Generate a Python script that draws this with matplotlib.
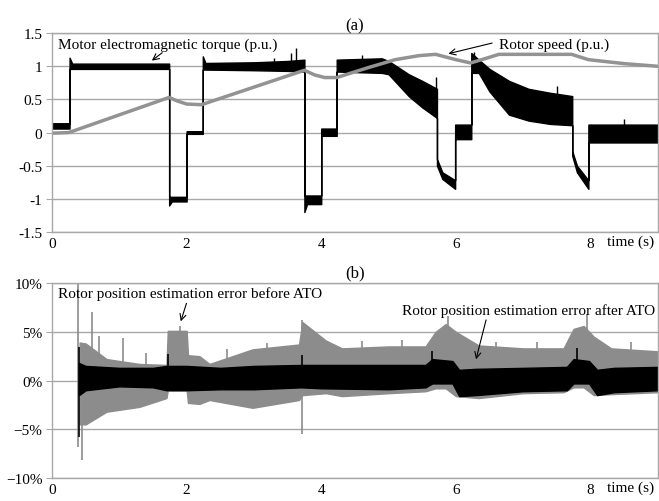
import numpy as np
import matplotlib
matplotlib.use("Agg")
import matplotlib.pyplot as plt
from matplotlib.ticker import PercentFormatter

plt.rcParams['font.family'] = ['Liberation Serif', 'DejaVu Serif']
plt.rcParams['font.size'] = 11

# (a) motor electromagnetic torque, envelope of the noisy trace (p.u.)
torque_t = [0.0, 0.26, 0.26, 0.30, 1.74, 1.74, 1.78, 2.0, 2.0, 2.24, 2.24, 2.28, 3.0, 3.5, 3.75,
            3.75, 3.79, 4.0, 4.0, 4.23, 4.23, 4.9, 5.0, 5.3, 5.5, 5.72, 5.72, 5.8, 5.99, 5.99,
            6.23, 6.23, 6.34, 6.5, 6.79, 7.08, 7.4, 7.73, 7.73, 7.8, 7.97, 7.97, 9.0]
torque_lo = [0.06, 0.06, 0.96, 0.96, 0.96, -1.1, -1.04, -1.04, -0.02, -0.02, 0.95, 0.95, 0.94, 0.93, 0.92,
             -1.2, -1.08, -1.08, -0.05, -0.05, 0.92, 0.9, 0.88, 0.55, 0.38, 0.22, -0.5, -0.7, -0.85, -0.1,
             -0.1, 0.9, 0.9, 0.62, 0.27, 0.18, 0.13, 0.11, -0.35, -0.6, -0.85, -0.15, -0.15]
torque_hi = [0.14, 0.14, 1.13, 1.04, 1.04, -0.97, -0.97, -0.97, 0.02, 0.02, 1.15, 1.05, 1.06, 1.08, 1.1,
             -0.95, -0.95, -0.95, 0.06, 0.06, 1.1, 1.12, 1.08, 0.88, 0.78, 0.66, -0.4, -0.6, -0.72, 0.12,
             0.12, 1.2, 1.1, 0.96, 0.78, 0.66, 0.6, 0.55, -0.28, -0.5, -0.72, 0.12, 0.12]
torque_spike_t = [3.3, 3.55, 3.62, 4.6, 5.7, 6.27, 7.5, 8.5]
torque_spike_lo = [1.0, 1.0, 1.0, 1.0, 0.5, 1.0, 0.4, 0.0]
torque_spike_hi = [1.12, 1.2, 1.27, 1.17, 0.84, 1.21, 0.7, 0.2]

# rotor speed (p.u.)
speed_t = [0.0, 0.25, 1.74, 1.85, 2.0, 2.22, 3.75, 3.9, 4.05, 4.23, 4.7, 5.1, 5.45, 5.7,
           6.0, 6.22, 6.45, 6.64, 7.72, 7.97, 8.5, 9.0]
speed_v = [-0.01, 0.0, 0.53, 0.48, 0.43, 0.42, 0.94, 0.87, 0.83, 0.83, 0.98, 1.1, 1.16, 1.18,
           1.1, 1.05, 1.12, 1.18, 1.18, 1.1, 1.04, 1.0]

# (b) rotor position estimation error before ATO (%), envelope
before_t = [0.41, 0.5, 0.81, 1.3, 1.7, 1.72, 2.0, 2.02, 2.19, 2.34, 2.98, 3.67, 3.72, 4.07, 4.31,
            5.0, 5.55, 5.7, 5.85, 6.0, 6.34, 7.0, 7.6, 7.75, 7.9, 8.05, 8.31, 9.0]
before_hi = [3.9, 3.8, 2.2, 1.7, 1.6, 5.1, 5.1, 2.6, 2.5, 1.7, 3.2, 3.7, 6.0, 4.1, 3.3,
             3.5, 3.5, 5.0, 5.8, 5.0, 3.6, 3.3, 3.3, 5.3, 5.6, 4.5, 3.3, 3.0]
before_lo = [-4.5, -4.5, -3.2, -2.7, -1.8, -1.0, -1.0, -2.3, -2.4, -2.0, -2.8, -2.0, -1.5, -1.3, -1.6,
             -1.3, -1.1, -0.8, -0.8, -1.6, -1.8, -1.3, -1.2, -0.7, -0.7, -1.5, -1.4, -1.2]
before_spike_t = [0.38, 0.45, 0.59, 0.7, 1.05, 1.4, 1.9, 2.6, 3.2, 3.72, 4.6, 5.2, 5.88, 6.6, 7.2,
                  7.95, 8.6]
before_spike_lo = [-6.8, -8.2, 0.0, 0.0, 0.0, 0.0, 0.0, 0.0, 0.0, -5.5, 0.0, 0.0, 0.0, 0.0, 0.0,
                   0.0, 0.0]
before_spike_hi = [10.0, 0.0, 7.0, 4.6, 4.4, 2.8, 5.6, 3.2, 3.9, 6.2, 4.1, 4.2, 6.6, 4.0, 4.0,
                   6.8, 4.0]

# rotor position estimation error after ATO (%), envelope
after_t = [0.4, 0.5, 1.0, 1.5, 1.7, 2.0, 2.5, 3.0, 3.7, 4.0, 5.0, 5.55, 5.65, 5.95, 6.05, 6.3,
           7.0, 7.65, 7.75, 7.98, 8.1, 8.35, 9.0]
after_hi = [1.8, 1.5, 1.3, 1.3, 1.5, 1.5, 1.3, 1.5, 1.6, 1.6, 1.6, 1.6, 2.2, 2.0, 1.1, 1.2,
            1.3, 1.4, 2.2, 2.0, 1.1, 1.3, 1.4]
after_lo = [-1.5, -1.0, -0.6, -0.7, -1.0, -1.0, -0.9, -0.9, -0.7, -0.8, -0.9, -0.7, -0.3, -0.3, -1.6, -1.5,
            -1.1, -1.0, -0.3, -0.3, -1.5, -1.2, -1.0]
after_spike_t = [0.4, 1.72, 3.72, 5.65, 7.8]
after_spike_lo = [-5.8, 0.0, 0.0, 0.0, 0.0]
after_spike_hi = [3.4, 2.7, 2.6, 3.0, 3.3]

GRID = '#a8a8a8'
GRAY = '#8c8c8c'

fig = plt.figure(figsize=(6.59, 5.02), dpi=100)
ax1 = fig.add_axes([0.079, 0.536, 0.919, 0.396])
ax2 = fig.add_axes([0.079, 0.046, 0.919, 0.388])

for ax in (ax1, ax2):
    for s in ax.spines.values():
        s.set_color(GRID)
        s.set_linewidth(1.0)
    ax.yaxis.grid(True, color=GRID, linewidth=1.0)
    ax.set_axisbelow(True)
    ax.tick_params(axis='y', length=4, color=GRID, pad=3)
    ax.tick_params(axis='x', length=0, pad=4)
    ax.set_xlim(0, 9)
    ax.set_xticks([0, 2, 4, 6, 8])

# --- (a)
ax1.fill_between(torque_t, torque_lo, torque_hi, facecolor='black', edgecolor='black', linewidth=1.0)
ax1.vlines(torque_spike_t, torque_spike_lo, torque_spike_hi, color='black', linewidth=1.0)
ax1.plot(speed_t, speed_v, color='#939393', linewidth=2.5)
ax1.set_ylim(-1.5, 1.5)
ax1.set_yticks([-1.5, -1, -0.5, 0, 0.5, 1, 1.5])
ax1.set_yticklabels(['-1.5', '-1', '-0.5', '0', '0.5', '1', '1.5'])
ax1.set_title('(a)', fontsize=12, pad=3)
ax1.text(0.09, 1.33, 'Motor electromagnetic torque (p.u.)', va='center', ha='left')
ax1.annotate('', xy=(1.45, 1.06), xytext=(1.67, 1.23),
             arrowprops=dict(arrowstyle='->', color='black', lw=0.8))
ax1.text(6.64, 1.33, 'Rotor speed (p.u.)', va='center', ha='left')
ax1.annotate('', xy=(5.85, 1.18), xytext=(6.58, 1.36),
             arrowprops=dict(arrowstyle='->', color='black', lw=0.8))
ax1.text(8.25, -0.015, 'time (s)', transform=ax1.get_xaxis_transform(), va='top', ha='left')

# --- (b)
ax2.fill_between(before_t, before_lo, before_hi, facecolor=GRAY, edgecolor=GRAY, linewidth=1.0, zorder=1.0)
ax2.vlines(before_spike_t, before_spike_lo, before_spike_hi, color=GRAY, linewidth=1.2, zorder=1.1)
ax2.fill_between(after_t, after_lo, after_hi, facecolor='black', edgecolor='black', linewidth=1.0, zorder=1.2)
ax2.vlines(after_spike_t, after_spike_lo, after_spike_hi, color='black', linewidth=1.2, zorder=1.3)
ax2.set_ylim(-10, 10)
ax2.set_yticks([-10, -5, 0, 5, 10])
ax2.yaxis.set_major_formatter(PercentFormatter(decimals=0))
ax2.set_title('(b)', fontsize=12, pad=5)
ax2.text(0.09, 9.0, 'Rotor position estimation error before ATO', va='center', ha='left')
ax2.annotate('', xy=(1.9, 5.8), xytext=(2.01, 8.2),
             arrowprops=dict(arrowstyle='->', color='black', lw=0.8))
ax2.text(5.2, 7.2, 'Rotor position estimation error after ATO', va='center', ha='left')
ax2.annotate('', xy=(6.29, 1.9), xytext=(6.46, 6.5),
             arrowprops=dict(arrowstyle='->', color='black', lw=0.8))
ax2.text(8.25, -0.015, 'time (s)', transform=ax2.get_xaxis_transform(), va='top', ha='left')

fig.savefig('out.png', dpi=100)
